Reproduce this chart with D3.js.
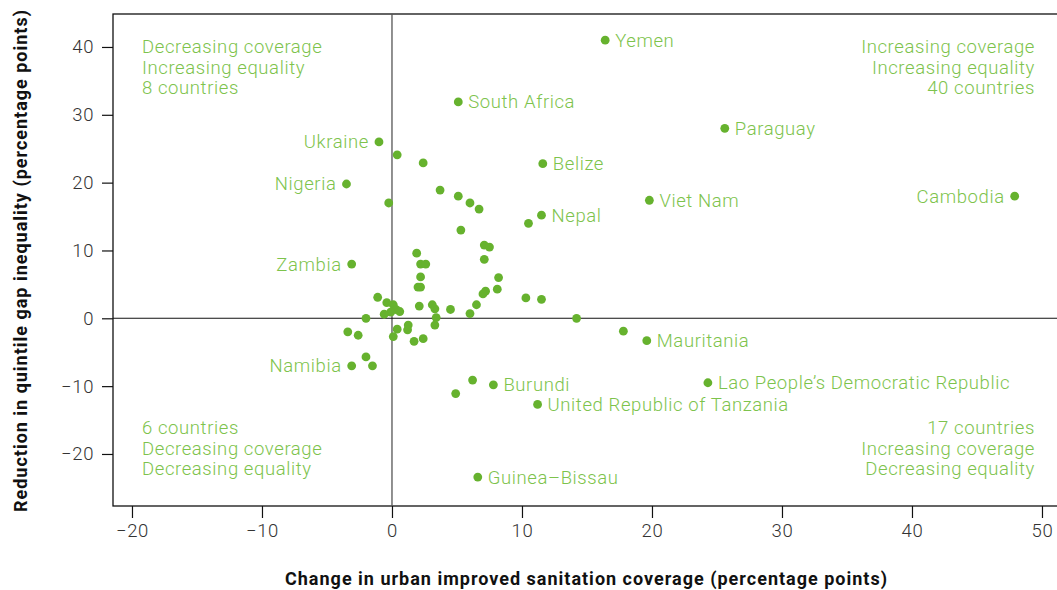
<!DOCTYPE html>
<html>
<head>
<meta charset="utf-8">
<script src="https://cdn.jsdelivr.net/npm/d3@7"></script>
<style>
  html, body { margin: 0; padding: 0; background: #fff; }
  svg { display: block; }
  text { font-family: Roboto, "Noto Sans", sans-serif; }
</style>
</head>
<body>
<svg id="chart" width="1057" height="590"></svg>
<script>
// ---- Data ----
const labeledNames = ["Yemen","South Africa","Paraguay","Ukraine","Belize","Nigeria","Viet Nam","Cambodia","Nepal","Zambia","Mauritania","Namibia","Burundi","Lao People\u2019s Democratic Republic","United Republic of Tanzania","Guinea\u2013Bissau"];
const labeledX = [16.4, 5.1, 25.6, -1.0, 11.6, -3.5, 19.8, 47.9, 11.5, -3.1, 19.6, -3.1, 7.8, 24.3, 11.2, 6.6];
const labeledY = [41.0, 31.9, 28.0, 26.0, 22.8, 19.8, 17.4, 18.0, 15.2, 8.0, -3.3, -7.0, -9.8, -9.5, -12.7, -23.4];
const labeledSide = ["right","right","right","left","right","left","right","left","right","left","right","left","right","right","right","right"];

const otherX = [0.4, 2.4, 3.7, 5.1, 6.0, 6.7, -0.25, 5.3, 10.5, 7.1, 7.5, 7.1, 1.9, 2.2, 2.6, 2.2, 2.0, 2.2, 8.2, 8.1, 7.2, 7.0, 6.5, 6.0, 10.3, 11.5, -1.1, 0.1, 0.3, 0.6, -0.1, -0.6, -0.4, 2.1, 3.1, 3.3, 4.5, 3.4, 3.3, -2.0, -3.4, -2.6, 0.4, 0.1, 1.25, 1.2, 2.4, 1.7, -2.0, -1.5, 6.2, 4.9, 14.2, 17.8];
const otherY = [24.1, 22.9, 18.9, 18.0, 17.0, 16.1, 17.0, 13.0, 14.0, 10.8, 10.5, 8.7, 9.6, 8.0, 8.0, 6.1, 4.6, 4.6, 6.0, 4.3, 4.0, 3.6, 2.0, 0.7, 3.0, 2.8, 3.1, 2.0, 1.3, 1.0, 0.9, 0.6, 2.3, 1.8, 2.0, 1.4, 1.3, 0.1, -1.0, 0.0, -2.0, -2.5, -1.6, -2.7, -1.0, -1.7, -3.0, -3.4, -5.7, -7.0, -9.1, -11.1, 0.0, -1.9];

const xTicks = [-20, -10, 0, 10, 20, 30, 40, 50];
const yTicks = [-20, -10, 0, 10, 20, 30, 40];

const quadTopLeft = ["Decreasing coverage", "Increasing equality", "8 countries"];
const quadTopRight = ["Increasing coverage", "Increasing equality", "40 countries"];
const quadBottomLeft = ["6 countries", "Decreasing coverage", "Decreasing equality"];
const quadBottomRight = ["17 countries", "Increasing coverage", "Decreasing equality"];

const xTitle = "Change in urban improved sanitation coverage (percentage points)";
const yTitle = "Reduction in quintile gap inequality (percentage points)";

(function () {
// ---- Layout ----
const svg = d3.select("#chart");
const pL = 113, pR = 1062, pT = 14, pB = 506;
const x = d3.scaleLinear().domain([-21.46, 51.54]).range([pL, pR]);
const y = d3.scaleLinear().domain([-27.67, 44.86]).range([pB, pT]);

const dotColor = "#66b22e";
const labelColor = "#7dc34c";
const tickColor = "#333";
const fs = 18.5, ls = "0.6px";

// frame
svg.append("rect").attr("x", pL).attr("y", pT).attr("width", pR - pL).attr("height", pB - pT)
  .attr("fill", "none").attr("stroke", "#111").attr("stroke-width", 1.3);

// zero lines
svg.append("line").attr("x1", x(0)).attr("x2", x(0)).attr("y1", pT).attr("y2", pB)
  .attr("stroke", "#555").attr("stroke-width", 1.3);
svg.append("line").attr("x1", pL).attr("x2", pR).attr("y1", y(0)).attr("y2", y(0))
  .attr("stroke", "#111").attr("stroke-width", 1.1);

// axes
const xAxis = d3.axisBottom(x).tickValues(xTicks).tickSize(12).tickPadding(6)
  .tickFormat(d => d < 0 ? "\u2212" + Math.abs(d) : d);
const gx = svg.append("g").attr("transform", `translate(0,${pB})`).call(xAxis);
gx.select(".domain").remove();
gx.selectAll(".tick line").attr("stroke", "#111").attr("stroke-width", 1.2);
gx.selectAll(".tick text").attr("fill", tickColor).attr("font-size", fs).attr("font-weight", 300)
  .attr("letter-spacing", ls).attr("font-family", "Roboto, sans-serif");

const yAxis = d3.axisLeft(y).tickValues(yTicks).tickSize(11).tickPadding(8)
  .tickFormat(d => d < 0 ? "\u2212" + Math.abs(d) : d);
const gy = svg.append("g").attr("transform", `translate(${pL},0)`).call(yAxis);
gy.select(".domain").remove();
gy.selectAll(".tick line").attr("stroke", "#111").attr("stroke-width", 1.2);
gy.selectAll(".tick text").attr("fill", tickColor).attr("font-size", fs).attr("font-weight", 300)
  .attr("letter-spacing", ls).attr("font-family", "Roboto, sans-serif");

// axis titles
svg.append("text").attr("x", 586).attr("y", 585).attr("text-anchor", "middle")
  .attr("font-size", 18).attr("font-weight", 700).attr("fill", "#111")
  .attr("textLength", 602).attr("lengthAdjust", "spacing").text(xTitle);
svg.append("text").attr("transform", "translate(27,261) rotate(-90)").attr("text-anchor", "middle")
  .attr("font-size", 18).attr("font-weight", 700).attr("fill", "#111")
  .attr("textLength", 502).attr("lengthAdjust", "spacing").text(yTitle);

// points
const others = otherX.map((v, i) => ({x: v, y: otherY[i]}));
svg.append("g").selectAll("circle").data(others).join("circle")
  .attr("cx", d => x(d.x)).attr("cy", d => y(d.y)).attr("r", 4.4).attr("fill", dotColor);

const labeled = labeledNames.map((n, i) => ({name: n, x: labeledX[i], y: labeledY[i], side: labeledSide[i]}));
const lg = svg.append("g");
lg.selectAll("circle").data(labeled).join("circle")
  .attr("cx", d => x(d.x)).attr("cy", d => y(d.y)).attr("r", 4.4).attr("fill", dotColor);
lg.selectAll("text").data(labeled).join("text")
  .attr("x", d => d.side === "right" ? x(d.x) + 10 : x(d.x) - 10)
  .attr("y", d => y(d.y)).attr("dy", "0.35em")
  .attr("text-anchor", d => d.side === "right" ? "start" : "end")
  .attr("font-size", fs).attr("font-weight", 300).attr("letter-spacing", ls)
  .attr("fill", labelColor).text(d => d.name);

// quadrant labels
function quad(lines, xp, y0, anchor) {
  svg.append("g").selectAll("text").data(lines).join("text")
    .attr("x", xp).attr("y", (d, i) => y0 + i * 20.5).attr("dy", "0.35em")
    .attr("text-anchor", anchor).attr("font-size", fs).attr("font-weight", 300)
    .attr("letter-spacing", ls).attr("fill", labelColor).text(d => d);
}
quad(quadTopLeft, 142, 47, "start");
quad(quadTopRight, 1035, 47, "end");
quad(quadBottomLeft, 142, 428, "start");
quad(quadBottomRight, 1035, 428, "end");
})();
</script>
</body>
</html>
